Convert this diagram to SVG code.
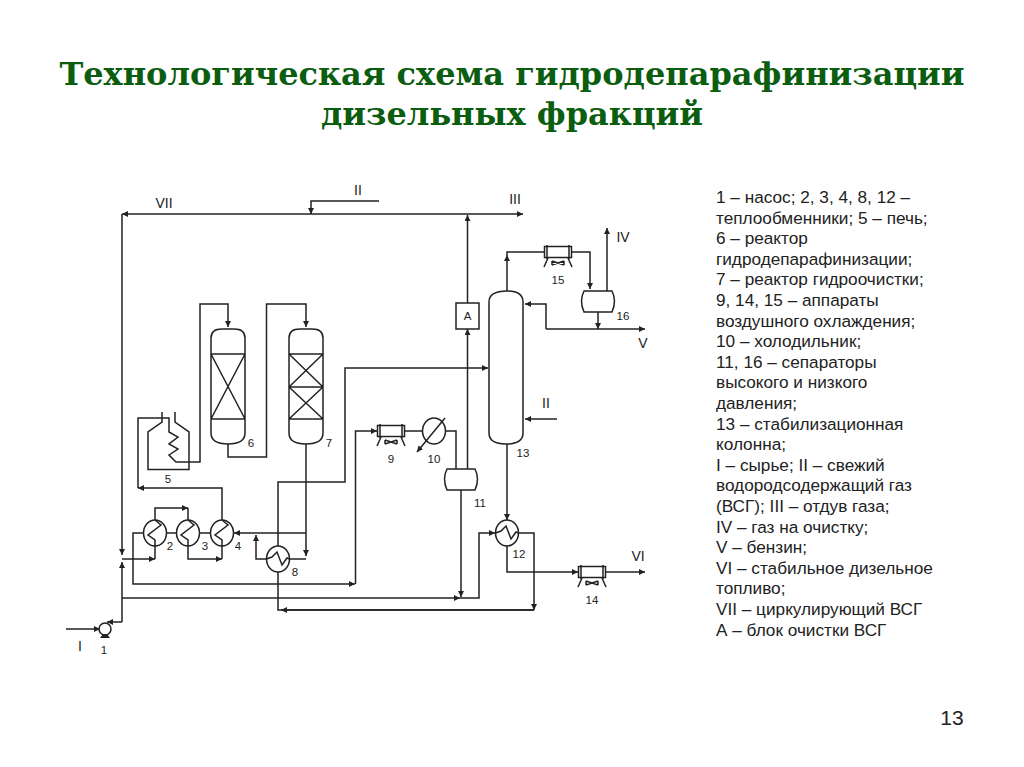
<svg xmlns="http://www.w3.org/2000/svg" width="1024" height="767" viewBox="0 0 1024 767">
<style>
.t{font-family:"DejaVu Serif",serif;font-weight:bold;font-size:32px;fill:#0b5d0f;text-anchor:middle}
.l{font-family:"Liberation Sans",sans-serif;font-size:17.200px;fill:#222}
.r{font-family:"Liberation Sans",sans-serif;font-size:14px;fill:#222;text-anchor:middle}
.n{font-family:"Liberation Sans",sans-serif;font-size:11.5px;fill:#222;text-anchor:middle}
.s{fill:none;stroke:#222;stroke-width:1.5}
.f{fill:#fff;stroke:#222;stroke-width:1.5}
</style>
<defs>
<marker id="a" viewBox="0 0 6 6" refX="6" refY="3" markerWidth="6" markerHeight="6" markerUnits="userSpaceOnUse" orient="auto"><path d="M0 0L6 3L0 6Z" fill="#222"/></marker>
<g id="hx"><ellipse rx="11.5" ry="13" class="f"/><path class="s" d="M0 -13L6 -8L-7 2L0 7V13"/></g>
<g id="hx2"><ellipse rx="11.5" ry="13" class="f"/><path class="s" d="M-11.5 0L-6 -2L-1 -7L4 6L9 -1L11.5 0"/></g>
<g id="ac"><rect x="-13.5" y="-5.500" width="27" height="11" class="f"/><path class="s" d="M-11 -7V7M11 -7V7M-10 6L-14 15M10 6L14 15M-6 9L6 13M-6 13L6 9M-6 9V13M6 9V13"/></g>
</defs>
<rect width="1024" height="767" fill="#fff"/>
<text class="t" x="512" y="85">Технологическая схема гидродепарафинизации</text>
<text class="t" x="512" y="125">дизельных фракций</text>
<g id="connectors" class="s">
<path marker-end="url(#a)" d="M467 214H122"/>
<path d="M122 214V555" marker-end="url(#a)"/>
<path d="M467 214H523" marker-end="url(#a)"/>
<path d="M379 201H311V214" marker-end="url(#a)"/>
<path d="M467.500 303V215" marker-end="url(#a)"/>
<path d="M467.500 469V329" marker-end="url(#a)"/>
<path d="M122 622V562" marker-end="url(#a)"/>
<path d="M122 622H107" marker-end="url(#a)"/>
<path d="M66 629H100" marker-end="url(#a)"/>
<path d="M122 559H155" marker-end="url(#a)"/>
<path d="M155 546V559"/>
<path d="M122 598H460" marker-end="url(#a)"/>
<path d="M460 598H479V533H495" marker-end="url(#a)"/>
<path d="M144 533H133V584H355" marker-end="url(#a)"/>
<path d="M355.500 584V431H377" marker-end="url(#a)"/>
<path d="M155 520V508H188" marker-end="url(#a)"/>
<path d="M188 508V520M166 533H177M200 533H211"/>
<path d="M188 546V559H222" marker-end="url(#a)"/>
<path d="M222 559V546"/>
<path d="M222 520V488H138" marker-end="url(#a)"/>
<path d="M138 488V418H169V432L178 437L169 444L178 449L169 455L176 462H200V304H228V327" marker-end="url(#a)"/>
<path d="M162 412V422L148 432V469.500H189V432L175 422V412"/>
<path d="M228 444V457H266.500V304H306V327" marker-end="url(#a)"/>
<path d="M306 444V556" marker-end="url(#a)"/>
<path d="M306 559H290"/>
<path d="M306 533H234" marker-end="url(#a)"/>
<path d="M267 559H256V535" marker-end="url(#a)"/>
<path d="M278 546V482H345V368H488" marker-end="url(#a)"/>
<path d="M278 572V610H534"/>
<path d="M534 610H281" marker-end="url(#a)"/>
<path d="M519 533H534V610" marker-end="url(#a)"/>
<path d="M507 444V520" marker-end="url(#a)"/>
<path d="M507 546V572H578" marker-end="url(#a)"/>
<path d="M605 572H645" marker-end="url(#a)"/>
<path d="M405 431H423M445 431H456V469"/>
<path d="M445 418L417 452" marker-end="url(#a)"/>
<path d="M461 490V597" marker-end="url(#a)"/>
<path d="M507 291V255" marker-end="url(#a)"/>
<path d="M507 255V252H545M572 252H590V289" marker-end="url(#a)"/>
<path d="M607 291V228" marker-end="url(#a)"/>
<path d="M598 312V329" marker-end="url(#a)"/>
<path d="M546 329H645" marker-end="url(#a)"/>
<path d="M546 329V304H525" marker-end="url(#a)"/>
<path d="M557 419H525" marker-end="url(#a)"/>
</g>
<g id="pump1"><circle cx="105" cy="629" r="6" class="s"/><path d="M100 638H110L107 634H103Z" fill="#222"/></g>
<use id="hx2n" href="#hx" x="155" y="533"/>
<use id="hx3n" href="#hx" x="188" y="533"/>
<use id="hx4n" href="#hx" x="222" y="533"/>
<use id="hx8n" href="#hx2" x="278" y="559"/>
<use id="hx12n" href="#hx2" x="507" y="533"/>
<use id="ac9" href="#ac" x="391" y="431"/>
<use id="ac14" href="#ac" x="592" y="572"/>
<use id="ac15" href="#ac" x="558" y="252"/>
<g id="cooler10"><ellipse cx="434" cy="431" rx="11.500" ry="13" class="s"/></g>
<g id="reactor6"><path class="s" d="M211 338Q211 329 222 329H234Q245 329 245 338V433Q245 444 228 444Q211 444 211 433ZM211 354H245M211 419H245M211 354L245 419M245 354L211 419"/></g>
<g id="reactor7"><path class="s" d="M289 338Q289 329 300 329H312Q323 329 323 338V433Q323 444 306 444Q289 444 289 433ZM289 354H323M289 387H323M289 419H323M289 354L323 387M323 354L289 387M289 387L323 419M323 387L289 419"/></g>
<g id="column13"><path class="s" d="M489 302Q489 291 507 291Q523 291 523 302V433Q523 444 506 444Q489 444 489 433Z"/></g>
<g id="sep11"><path class="s" d="M447 469H475Q480 479 475 490H447Q442 479 447 469Z"/></g>
<g id="sep16"><path class="s" d="M584 291H612Q617 301 612 312H584Q579 301 584 291Z"/></g>
<g id="blockA"><rect x="456" y="303" width="23" height="26" class="f"/><text class="n" x="467.500" y="320">A</text></g>
<g id="labels">
<text class="r" x="164" y="208">VII</text><text class="r" x="358" y="195">II</text><text class="r" x="515" y="204">III</text>
<text class="r" x="623" y="242">IV</text><text class="r" x="643" y="348">V</text><text class="r" x="546" y="408">II</text>
<text class="r" x="638" y="561">VI</text><text class="r" x="80" y="651">I</text>
<text class="n" x="104" y="654">1</text><text class="n" x="170" y="550">2</text><text class="n" x="205" y="550">3</text><text class="n" x="238" y="550">4</text>
<text class="n" x="168" y="483">5</text><text class="n" x="251" y="447">6</text><text class="n" x="329" y="447">7</text><text class="n" x="295" y="576">8</text>
<text class="n" x="391" y="463">9</text><text class="n" x="434" y="463">10</text><text class="n" x="480" y="507">11</text><text class="n" x="519" y="558">12</text>
<text class="n" x="523" y="457">13</text><text class="n" x="592" y="604">14</text><text class="n" x="558" y="284">15</text><text class="n" x="623" y="320">16</text>
</g>
<g id="legend">
<text class="l" x="716" y="203">1 – насос; 2, 3, 4, 8, 12 –</text>
<text class="l" x="716" y="224">теплообменники; 5 – печь;</text>
<text class="l" x="716" y="244">6 – реактор</text>
<text class="l" x="716" y="265">гидродепарафинизации;</text>
<text class="l" x="716" y="285">7 – реактор гидроочистки;</text>
<text class="l" x="716" y="306">9, 14, 15 – аппараты</text>
<text class="l" x="716" y="327">воздушного охлаждения;</text>
<text class="l" x="716" y="347">10 – холодильник;</text>
<text class="l" x="716" y="368">11, 16 – сепараторы</text>
<text class="l" x="716" y="388">высокого и низкого</text>
<text class="l" x="716" y="409">давления;</text>
<text class="l" x="716" y="430">13 – стабилизационная</text>
<text class="l" x="716" y="450">колонна;</text>
<text class="l" x="716" y="471">I – сырье; II – свежий</text>
<text class="l" x="716" y="491">водородсодержащий газ</text>
<text class="l" x="716" y="512">(ВСГ); III – отдув газа;</text>
<text class="l" x="716" y="533">IV – газ на очистку;</text>
<text class="l" x="716" y="553">V – бензин;</text>
<text class="l" x="716" y="574">VI – стабильное дизельное</text>
<text class="l" x="716" y="594">топливо;</text>
<text class="l" x="716" y="615">VII – циркулирующий ВСГ</text>
<text class="l" x="716" y="636">А – блок очистки ВСГ</text>
</g>
<text x="952" y="725" font-family="Liberation Sans, sans-serif" font-size="21" fill="#222" text-anchor="middle">13</text>
</svg>
